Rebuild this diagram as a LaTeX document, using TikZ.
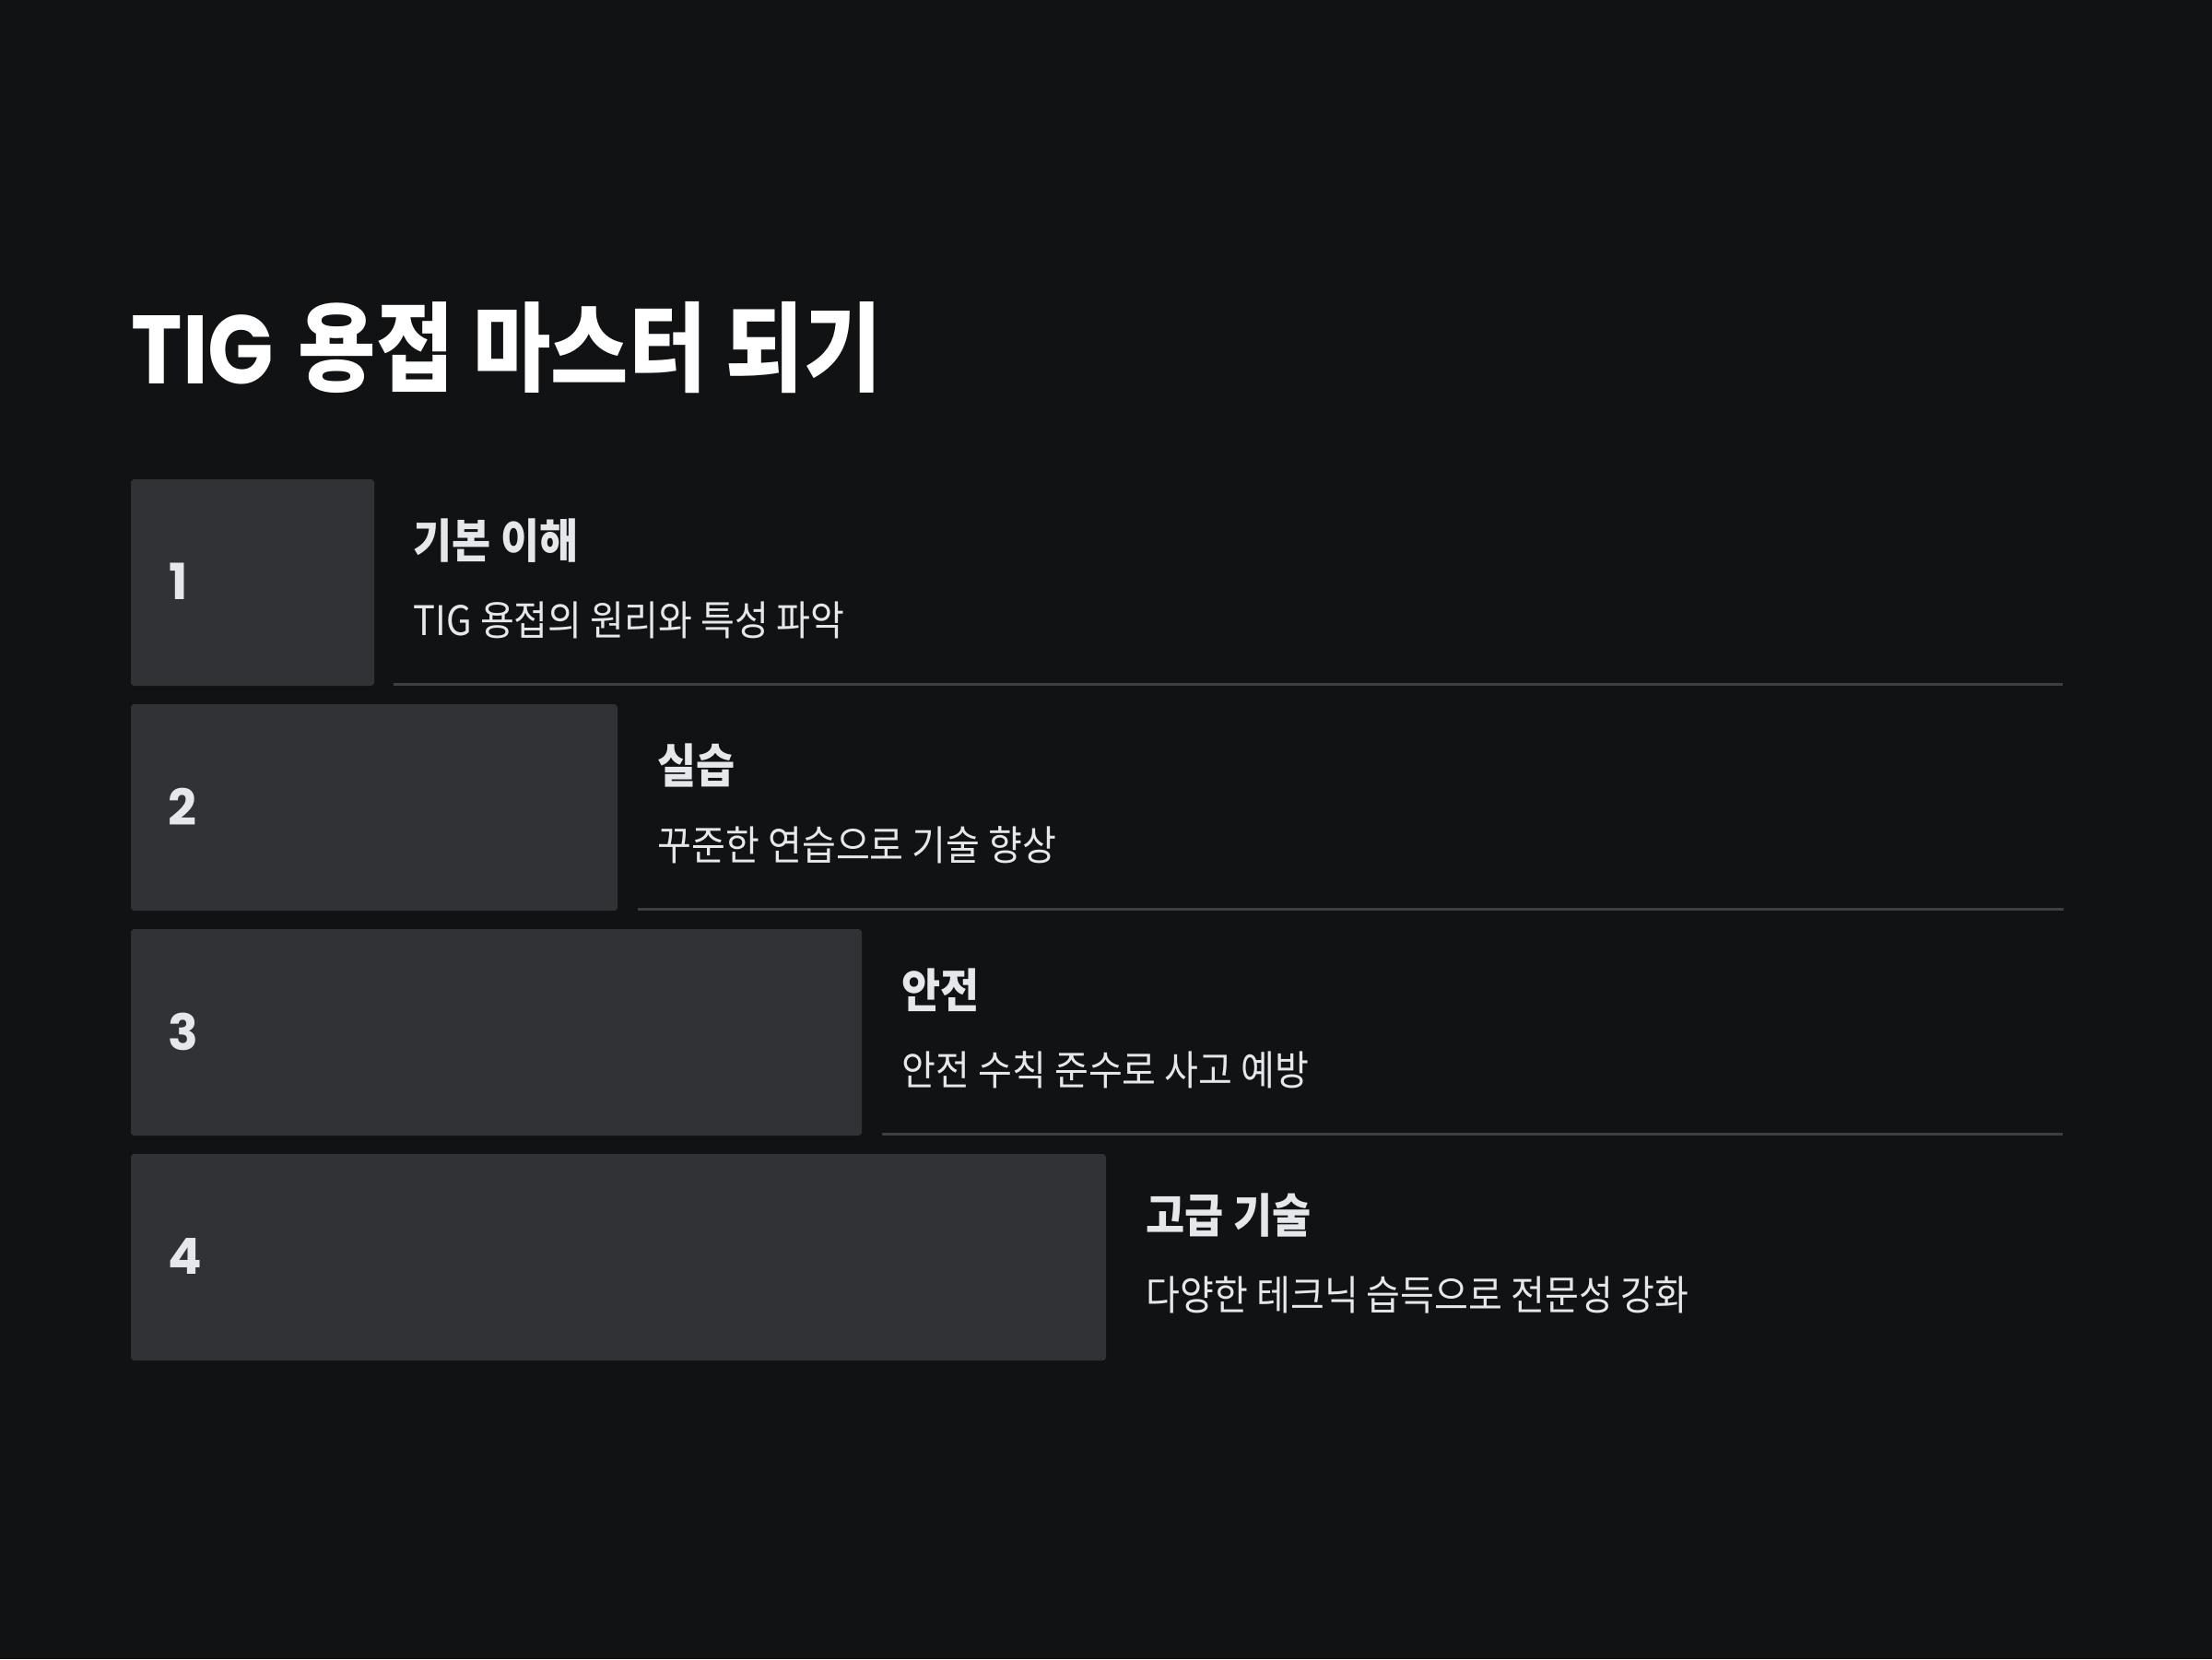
\documentclass[tikz,border=0pt]{standalone}
\usepackage{fontspec}
\setmainfont[FakeStretch=0.905]{Noto Sans CJK KR}
\newfontfamily\titlefont[FakeStretch=0.87]{Noto Sans CJK KR}
\newfontfamily\numfont{Poppins}
\newfontfamily\titlelatin[FakeStretch=0.89]{Poppins}

\definecolor{bgdark}{RGB}{17,18,20}
\definecolor{stepgray}{RGB}{49,50,53}
\definecolor{rulegray}{RGB}{62,63,66}
\definecolor{textlight}{RGB}{229,231,235}

\tikzset{
	stepbox/.style={fill=stepgray, rounded corners=1pt},
	steprule/.style={rulegray, line width=0.85pt},
	stepnum/.style={anchor=west, inner sep=0pt, text=textlight, font=\numfont\bfseries\fontsize{15.4}{18}\selectfont},
	steptitle/.style={anchor=base west, inner sep=0pt, text=textlight, font=\bfseries\fontsize{14.4}{17}\selectfont},
	stepdesc/.style={anchor=base west, inner sep=0pt, text=textlight, font=\fontsize{12.6}{15}\selectfont},
}

\begin{document}
\begin{tikzpicture}
		
		\fill[bgdark] (0,0) rectangle (24,-18);
		
		\node[anchor=base west, inner sep=0pt, text=white, font=\titlefont\bfseries\fontsize{30}{36}\selectfont] (title) at (1.42,-4.16) {{\titlelatin TIG}\hspace{0.05em} 용접 마스터 되기};
		
		\fill[stepbox] (1.42,-5.20) rectangle (4.06,-7.44);
		\fill[stepbox] (1.42,-7.64) rectangle (6.70,-9.88);
		\fill[stepbox] (1.42,-10.08) rectangle (9.35,-12.32);
		\fill[stepbox] (1.42,-12.52) rectangle (12.00,-14.76);
		
		\draw[steprule] (4.27,-7.42) -- (22.38,-7.42);
		\draw[steprule] (6.92,-9.86) -- (22.39,-9.86);
		\draw[steprule] (9.57,-12.30) -- (22.38,-12.30);
		
		\node[stepnum] (num1) at (1.83,-6.31) {1};
		\node[stepnum] (num2) at (1.82,-8.75) {2};
		\node[stepnum] (num3) at (1.82,-11.19) {3};
		\node[stepnum] (num4) at (1.82,-13.63) {4};
		
		\node[steptitle] (basics) at (4.48,-6.05) {기본 이해};
		\node[stepdesc] (basicsdesc) at (4.48,-6.89) {TIG 용접의 원리와 특성 파악};
		
		\node[steptitle] (practice) at (7.13,-8.49) {실습};
		\node[stepdesc] (practicedesc) at (7.13,-9.33) {꾸준한 연습으로 기술 향상};
		
		\node[steptitle] (safety) at (9.78,-10.93) {안전};
		\node[stepdesc] (safetydesc) at (9.78,-11.77) {안전 수칙 준수로 사고 예방};
		
		\node[steptitle] (advanced) at (12.43,-13.37) {고급 기술};
		\node[stepdesc] (advanceddesc) at (12.43,-14.21) {다양한 테크닉 습득으로 전문성 강화};
		
	\end{tikzpicture}
\end{document}
